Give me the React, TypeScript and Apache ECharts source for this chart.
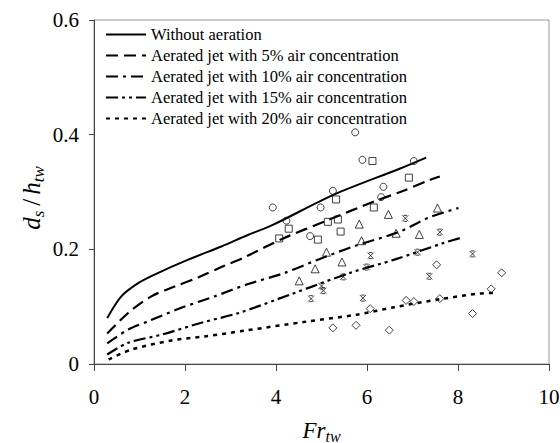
import React, { useEffect, useRef } from "react";
import * as echarts from "echarts";

const FONT = "'Liberation Serif', 'Times New Roman', serif";

const lineNames = [
  "Without aeration",
  "Aerated jet with 5% air concentration",
  "Aerated jet with 10% air concentration",
  "Aerated jet with 15% air concentration",
  "Aerated jet with 20% air concentration",
];

const lineWithout = [[0.29, 0.08], [0.6, 0.118], [0.97, 0.141], [1.33, 0.156], [2.07, 0.182], [2.8, 0.205], [3.38, 0.225], [3.94, 0.243], [5.26, 0.295], [6.73, 0.341], [7.3, 0.36]];
const line5 = [[0.29, 0.053], [0.75, 0.089], [1.26, 0.118], [1.77, 0.135], [2.29, 0.151], [2.8, 0.169], [3.3, 0.186], [4.16, 0.219], [5.11, 0.25], [6.14, 0.283], [6.73, 0.3], [7.38, 0.321], [7.6, 0.327]];
const line10 = [[0.29, 0.036], [0.75, 0.06], [1.19, 0.0745], [1.92, 0.098], [2.65, 0.118], [3.37, 0.139], [4.16, 0.158], [4.89, 0.181], [5.7, 0.205], [6.69, 0.23], [7.38, 0.256], [8.01, 0.272]];
const line15 = [[0.29, 0.0165], [0.75, 0.037], [1.48, 0.051], [2.36, 0.072], [3.18, 0.089], [4.31, 0.121], [5.63, 0.159], [6.6, 0.182], [7.68, 0.211], [8.1, 0.221]];
const line20 = [[0.32, 0.008], [0.82, 0.025], [1.7, 0.041], [2.43, 0.048], [3.3, 0.058], [4.67, 0.074], [5.77, 0.086], [6.6, 0.099], [7.6, 0.113], [8.48, 0.123], [8.78, 0.124]];

const ptsWithout = [[3.93, 0.273], [4.23, 0.25], [4.75, 0.223], [4.98, 0.273], [5.25, 0.302], [5.74, 0.404], [5.9, 0.356], [6.31, 0.291], [6.36, 0.309], [7.03, 0.354]];
const pts5 = [[4.07, 0.219], [4.28, 0.236], [4.92, 0.217], [5.14, 0.248], [5.32, 0.287], [5.36, 0.252], [5.42, 0.231], [6.12, 0.354], [6.15, 0.273], [6.92, 0.325]];
const pts10 = [[4.51, 0.145], [4.86, 0.166], [5.11, 0.195], [5.45, 0.178], [5.83, 0.244], [5.88, 0.215], [6.47, 0.261], [6.64, 0.228], [7.15, 0.226], [7.55, 0.272]];
const pts15 = [[4.77, 0.114], [5.0, 0.136], [5.04, 0.128], [5.48, 0.152], [5.91, 0.115], [5.99, 0.169], [6.08, 0.189], [6.84, 0.254], [7.11, 0.195], [7.37, 0.153], [7.6, 0.23], [8.32, 0.192]];
const pts20 = [[5.25, 0.063], [5.76, 0.0675], [6.07, 0.0965], [6.49, 0.059], [6.86, 0.111], [7.03, 0.109], [7.53, 0.173], [7.6, 0.114], [8.32, 0.088], [8.73, 0.131], [8.96, 0.159]];

const lineData = [lineWithout, line5, line10, line15, line20];
const lineDash: (number[] | "solid")[] = ["solid", [12, 6], [12, 5, 3, 5], [12, 4, 3, 4, 3, 4], [4, 5]];
const lineWidths = [2, 2.2, 2.2, 2.2, 2.5];

const pointData = [ptsWithout, pts5, pts10, pts15, pts20];
const pointSymbols = [
  "circle",
  "rect",
  "triangle",
  "path://M0,0L10,10M10,0L0,10M2,0L8,0M2,10L8,10",
  "diamond",
];
const pointSizes = [7, 7, 8, 6, 8];

export default function App() {
  const ref = useRef<HTMLDivElement>(null);
  useEffect(() => {
    if (!ref.current) return;
    const chart = echarts.init(ref.current, undefined, { renderer: "svg" });
    const series: any[] = [];
    lineData.forEach((d, i) => {
      series.push({
        name: lineNames[i],
        type: "line",
        data: d,
        smooth: 0.3,
        symbol: "none",
        lineStyle: { color: "#000", width: lineWidths[i], type: lineDash[i] },
        itemStyle: { color: "transparent", borderWidth: 0 },
        z: 2,
      });
    });
    pointData.forEach((d, i) => {
      series.push({
        name: "pts" + i,
        type: "scatter",
        data: d,
        symbol: pointSymbols[i],
        symbolSize: pointSizes[i],
        itemStyle: { color: "none", borderColor: "#111", borderWidth: 1 },
        z: 3,
      });
    });
    chart.setOption({
      animation: false,
      backgroundColor: "#fff",
      grid: {
        left: 94,
        right: 11,
        top: 20,
        bottom: 79,
        show: true,
        containLabel: false,
        outerBoundsMode: "none",
        borderColor: "#999",
        borderWidth: 1,
        backgroundColor: "transparent",
      },
      legend: {
        data: lineNames,
        orient: "vertical",
        left: 100,
        top: 21,
        itemWidth: 40,
        itemHeight: 14,
        itemGap: 4,
        textStyle: { fontFamily: FONT, fontSize: 16.5, color: "#000" },
        selectedMode: false,
      },
      graphic: [
        {
          type: "text",
          x: 31,
          y: 198,
          rotation: Math.PI / 2,
          style: {
            text: "{a|d}{b|s}{c|/}{a|h}{b|tw}",
            align: "center",
            verticalAlign: "middle",
            rich: {
              a: { fontFamily: FONT, fontStyle: "italic", fontSize: 25, fill: "#000", color: "#000" },
              b: { fontFamily: FONT, fontStyle: "italic", fontSize: 17, fill: "#000", color: "#000", padding: [14, 0, 0, 0] },
              c: { fontFamily: FONT, fontSize: 25, fill: "#000", color: "#000", padding: [0, 4, 0, 5] },
            },
          },
        },
      ],
      xAxis: {
        type: "value",
        min: 0,
        max: 10,
        interval: 2,
        axisLine: { show: true, lineStyle: { color: "#444", width: 1 } },
        axisTick: { show: true, length: 7, lineStyle: { color: "#444" } },
        splitLine: { show: false },
        axisLabel: { fontFamily: FONT, fontSize: 21, color: "#000", margin: 22 },
        name: "{a|Fr}{b|tw}",
        nameLocation: "middle",
        nameGap: 52,
        nameTextStyle: {
          rich: {
            a: { fontFamily: FONT, fontStyle: "italic", fontSize: 23, color: "#000" },
            b: { fontFamily: FONT, fontStyle: "italic", fontSize: 16, color: "#000", padding: [12, 0, 0, 0] },
          },
        },
      },
      yAxis: {
        type: "value",
        min: 0,
        max: 0.6,
        interval: 0.2,
        axisLine: { show: true, lineStyle: { color: "#444", width: 1 } },
        axisTick: { show: true, length: 5, lineStyle: { color: "#444" } },
        splitLine: { show: false },
        axisLabel: { fontFamily: FONT, fontSize: 21, color: "#000", margin: 15 },
      },
      series,
    });
    return () => chart.dispose();
  }, []);
  return (
    <div
      ref={ref}
      style={{ position: "fixed", left: 0, top: 0, width: 560, height: 443 }}
    />
  );
}
